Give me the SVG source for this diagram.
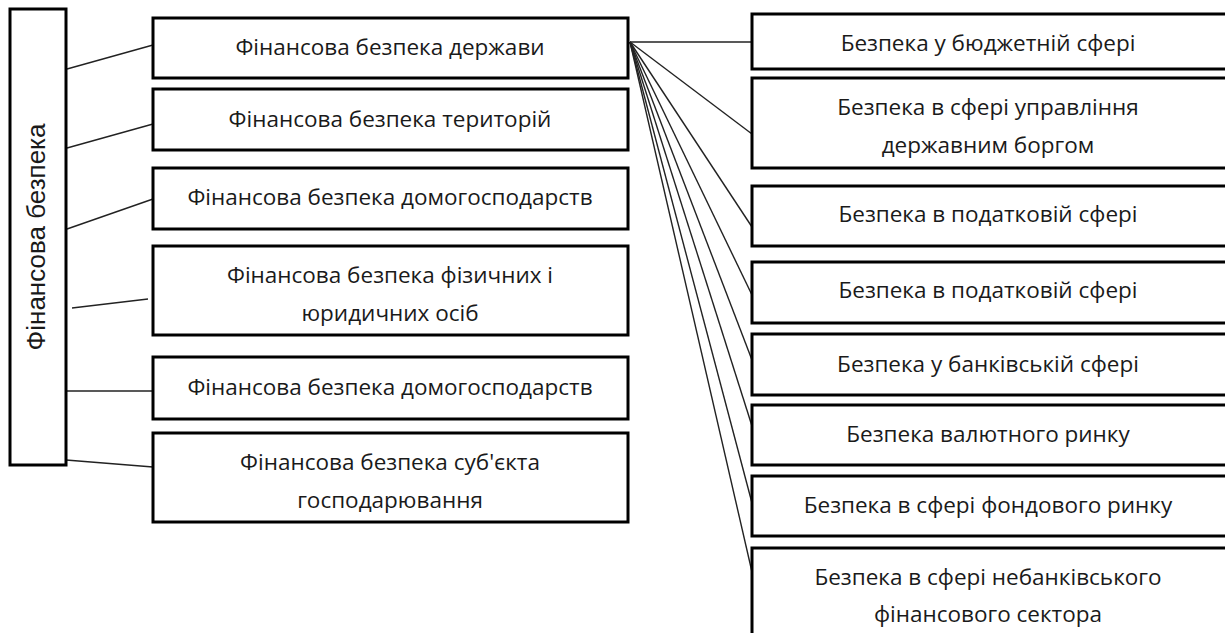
<svg xmlns="http://www.w3.org/2000/svg" width="1225" height="633" viewBox="0 0 1225 633">
<style>
.box{fill:#fff;stroke:#000;stroke-width:3}
.t{font-family:"Open Sans","Liberation Sans",sans-serif;font-size:22.5px;fill:#1a1a1a;text-anchor:middle}
.v{font-family:"Liberation Sans",Arial,sans-serif;font-size:26px;fill:#1a1a1a;text-anchor:middle}
.c{stroke:#222;stroke-width:1.4;fill:none}
</style>
<rect width="1225" height="633" fill="#fff"/>
<g id="connectors">
<line class="c" x1="67" y1="69" x2="153" y2="45"/>
<line class="c" x1="67" y1="148" x2="153" y2="124"/>
<line class="c" x1="67" y1="229" x2="153" y2="199"/>
<line class="c" x1="72" y1="308" x2="148" y2="299"/>
<line class="c" x1="67" y1="391" x2="153" y2="391"/>
<line class="c" x1="66" y1="460" x2="153" y2="467"/>
<line class="c" x1="630" y1="42" x2="752" y2="42"/>
<line class="c" x1="630" y1="42" x2="752" y2="134"/>
<line class="c" x1="630" y1="42" x2="752" y2="227"/>
<line class="c" x1="630" y1="42" x2="752" y2="295"/>
<line class="c" x1="630" y1="42" x2="752" y2="360"/>
<line class="c" x1="630" y1="42" x2="752" y2="426"/>
<line class="c" x1="630" y1="42" x2="752" y2="503"/>
<line class="c" x1="630" y1="42" x2="752" y2="572"/>
</g>
<g id="root">
<rect class="box" x="10" y="9" width="56" height="456"/>
<text class="v" transform="translate(45,237) rotate(-90)">Фінансова безпека</text>
</g>
<g id="l1"><rect class="box" x="153" y="18" width="475" height="60"/><text class="t" x="390" y="55">Фінансова безпека держави</text></g>
<g id="l2"><rect class="box" x="153" y="89" width="475" height="61"/><text class="t" x="390" y="127">Фінансова безпека територій</text></g>
<g id="l3"><rect class="box" x="153" y="168" width="475" height="61"/><text class="t" x="390" y="205">Фінансова безпека домогосподарств</text></g>
<g id="l4"><rect class="box" x="153" y="246" width="475" height="89"/><text class="t" x="390" y="283">Фінансова безпека фізичних і</text><text class="t" x="390" y="321">юридичних осіб</text></g>
<g id="l5"><rect class="box" x="153" y="357" width="475" height="62"/><text class="t" x="390" y="395">Фінансова безпека домогосподарств</text></g>
<g id="l6"><rect class="box" x="153" y="433" width="475" height="89"/><text class="t" x="390" y="470">Фінансова безпека суб'єкта</text><text class="t" x="390" y="508">господарювання</text></g>
<g id="r1"><rect class="box" x="752" y="14" width="490" height="55"/><text class="t" x="988" y="51">Безпека у бюджетній сфері</text></g>
<g id="r2"><rect class="box" x="752" y="78" width="490" height="90"/><text class="t" x="988" y="115">Безпека в сфері управління</text><text class="t" x="988" y="153">державним боргом</text></g>
<g id="r3"><rect class="box" x="752" y="186" width="490" height="60"/><text class="t" x="988" y="222">Безпека в податковій сфері</text></g>
<g id="r4"><rect class="box" x="752" y="262" width="490" height="61"/><text class="t" x="988" y="298">Безпека в податковій сфері</text></g>
<g id="r5"><rect class="box" x="752" y="334" width="490" height="61"/><text class="t" x="988" y="372">Безпека у банківській сфері</text></g>
<g id="r6"><rect class="box" x="752" y="405" width="490" height="60"/><text class="t" x="988" y="442">Безпека валютного ринку</text></g>
<g id="r7"><rect class="box" x="752" y="476" width="490" height="60"/><text class="t" x="988" y="513">Безпека в сфері фондового ринку</text></g>
<g id="r8"><rect class="box" x="752" y="548" width="490" height="100"/><text class="t" x="988" y="585">Безпека в сфері небанківського</text><text class="t" x="988" y="622">фінансового сектора</text></g>
</svg>
